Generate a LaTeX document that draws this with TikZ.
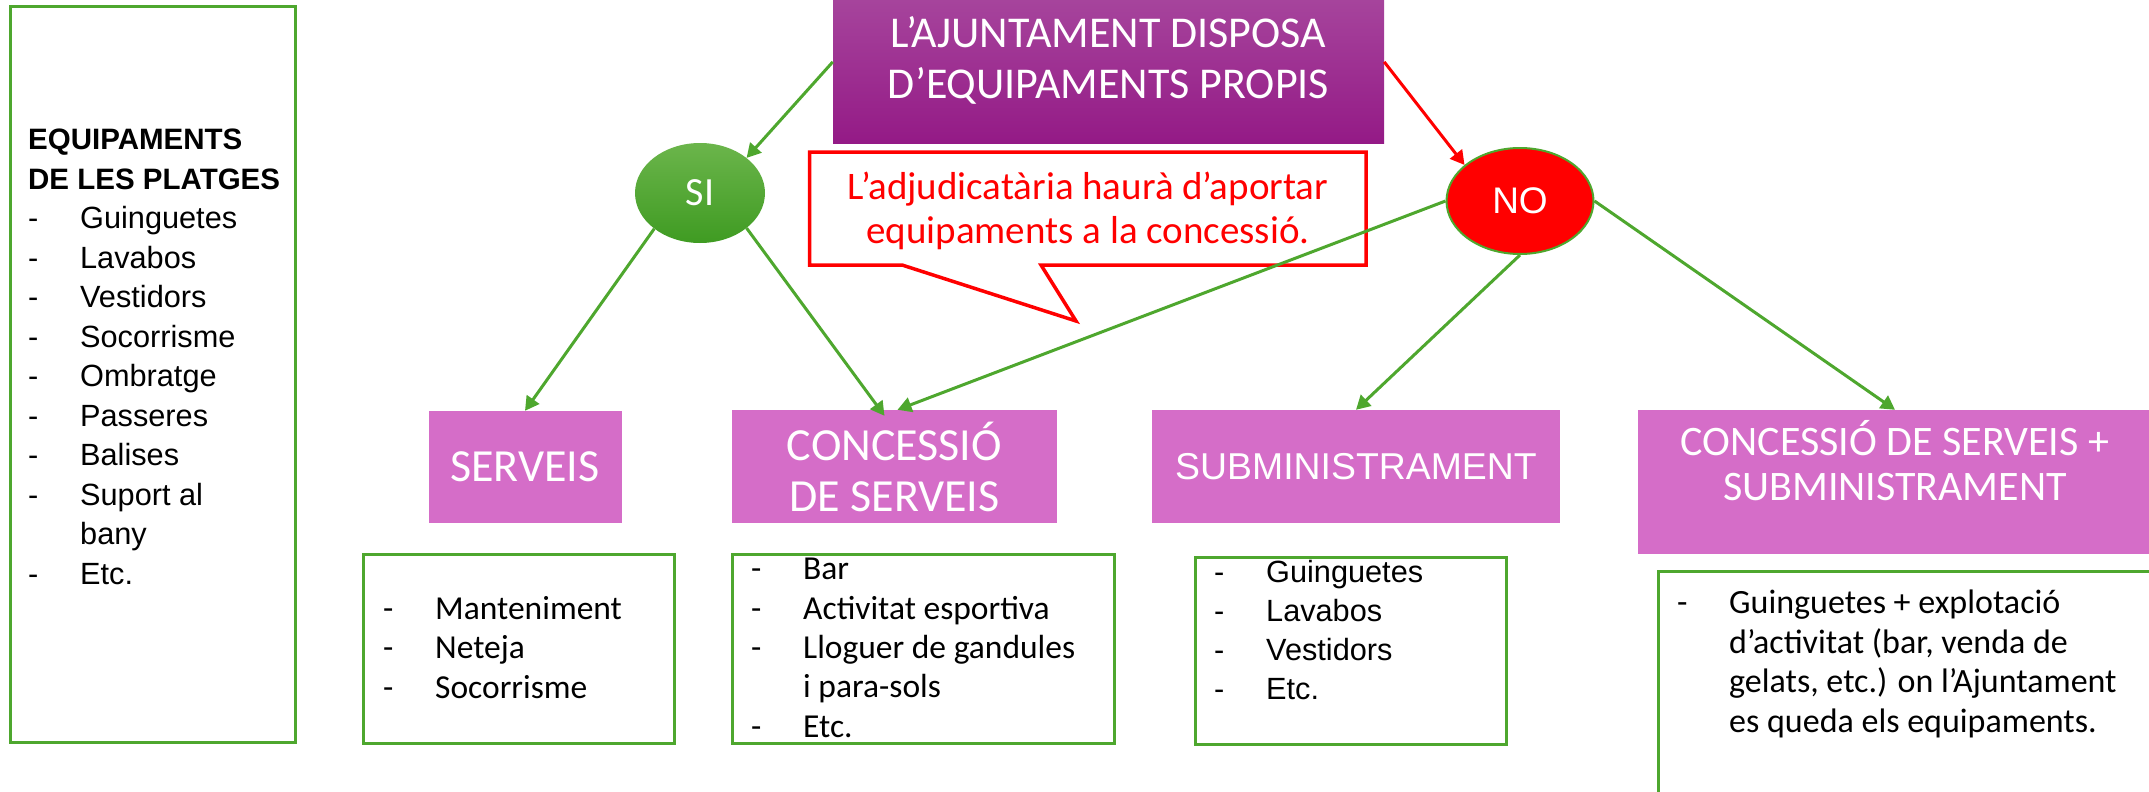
\documentclass[tikz,border=0pt]{standalone}
\usepackage{fontspec}
\setmainfont{Liberation Sans}
\newfontfamily\narrowfont{Carlito}
\usetikzlibrary{arrows.meta,shapes.geometric}

\definecolor{leafgreen}{HTML}{4EA72E}
\definecolor{orchid}{HTML}{D56DC8}
\definecolor{plumtop}{HTML}{A6449C}
\definecolor{plumbot}{HTML}{941A86}
\definecolor{sitop}{HTML}{6BB54B}
\definecolor{sibot}{HTML}{3F9B22}

\newcommand{\itm}[1]{\makebox[52pt][l]{-}#1}
\newcommand{\cont}{\hspace*{52pt}}

\tikzset{
  pinkbox/.style={fill=orchid, text=white, align=center, inner sep=0pt},
  listbox/.style={draw=leafgreen, line width=3pt, inner sep=0pt},
  % anchored on the baseline of the last line
  listtext/.style={align=left, anchor=base west, inner sep=0pt},
  link/.style={->, leafgreen, line width=3pt},
}

\begin{document}
\begin{tikzpicture}[x=1pt, y=-1pt, >={Triangle[length=14pt,width=15pt]}]
    \useasboundingbox (0,0) rectangle (2149,792);

    % left column
    \node[listbox, minimum width=285pt, minimum height=735pt] (platges) at (152.5,374.5) {};
    \node[listtext, font=\fontsize{30.7}{39.5}\selectfont] (platgestext) at (28,584)
        {{\bfseries\fontsize{29.5}{39.5}\selectfont EQUIPAMENTS}\\
         {\bfseries\fontsize{29.5}{39.5}\selectfont DE LES PLATGES}\\
         \itm{Guinguetes}\\ \itm{Lavabos}\\ \itm{Vestidors}\\ \itm{Socorrisme}\\
         \itm{Ombratge}\\ \itm{Passeres}\\ \itm{Balises}\\ \itm{Suport al}\\
         \cont bany\\ \itm{Etc.}};

    % question and answers
    \node[top color=plumtop, bottom color=plumbot, minimum width=551pt, minimum height=143pt]
          (ajuntament) at (1108.5,71.5) {};
    \node[text=white, align=center, inner sep=0pt, font=\narrowfont\fontsize{44}{51}\selectfont]
          (ajuntamenttext) at (1108.5,60) {L’AJUNTAMENT DISPOSA\\D’EQUIPAMENTS PROPIS};
    \node[ellipse, top color=sitop, bottom color=sibot, minimum width=130pt, minimum height=100pt,
          inner sep=0pt, text=white, font=\narrowfont\fontsize{40}{40}\selectfont] (si) at (700,193) {SI};
    \node[ellipse, fill=red, draw=leafgreen, line width=2pt, minimum width=147pt, minimum height=106pt,
          inner sep=0pt, text=white, font=\fontsize{37}{37}\selectfont] (no) at (1520,201) {NO};

    % callout
    \draw[red, line width=3.5pt, fill=white] (809.5,152) -- (1366,152) -- (1366,265) -- (1041,265)
        -- (1076,321) -- (902,265) -- (809.5,265) -- cycle;
    \node[text=red, align=center, font=\narrowfont\fontsize{39}{44}\selectfont] (nota) at (1088,211)
        {L’adjudicatària haurà d’aportar\\equipaments a la concessió.};

    % contract types
    \node[pinkbox, minimum width=193pt, minimum height=112pt, font=\narrowfont\fontsize{46}{51}\selectfont]
        (serveis) at (525,467) {SERVEIS};
    \node[pinkbox, minimum width=325pt, minimum height=113pt, font=\narrowfont\fontsize{46}{51}\selectfont]
        (concessio) at (894.5,466.5) {CONCESSIÓ\\DE SERVEIS};
    \node[pinkbox, minimum width=408pt, minimum height=113pt, font=\fontsize{37.4}{45}\selectfont]
        (subministrament) at (1356,466.5) {SUBMINISTRAMENT};
    \node[pinkbox, minimum width=514pt, minimum height=144pt] (mixt) at (1895,482) {};
    \node[text=white, align=center, inner sep=0pt, font=\narrowfont\fontsize{42}{45}\selectfont]
        (mixttext) at (1895,461) {CONCESSIÓ DE SERVEIS +\\SUBMINISTRAMENT};

    % lists
    \node[listbox, minimum width=311.5pt, minimum height=189pt] (tasques) at (519,648.5) {};
    \node[listtext, font=\narrowfont\fontsize{33.5}{39.5}\selectfont] (tasquestext) at (383,698)
        {\itm{Manteniment}\\ \itm{Neteja}\\ \itm{Socorrisme}};

    \node[listbox, minimum width=382pt, minimum height=189pt] (activitats) at (923,648.5) {};
    \node[listtext, font=\narrowfont\fontsize{33.5}{39.3}\selectfont] (activitatstext) at (751,737)
        {\itm{Bar}\\ \itm{Activitat esportiva}\\ \itm{Lloguer de gandules}\\ \cont i para-sols\\ \itm{Etc.}};

    \node[listbox, minimum width=311pt, minimum height=187pt] (installacions) at (1350.5,650.5) {};
    \node[listtext, font=\fontsize{30.7}{39}\selectfont] (installacionstext) at (1214,699)
        {\itm{Guinguetes}\\ \itm{Lavabos}\\ \itm{Vestidors}\\ \itm{Etc.}};

    \node[listbox, minimum width=502pt, minimum height=240pt] (explotacio) at (1909,691) {};
    \node[listtext, font=\narrowfont\fontsize{34}{39.5}\selectfont] (explotaciotext) at (1677,732)
        {\itm{Guinguetes + explotació}\\ \cont d’activitat (bar, venda de\\
         \cont gelats, etc.) on l’Ajuntament\\ \cont es queda els equipaments.};

    % arrows
    \draw[link] (ajuntament.178) -- (si.37);
    \draw[->, red, line width=3pt] (ajuntament.2) -- (no.147);
    \draw[link] (si.-142) -- (serveis.north);
    \draw[link] (si.-37) -- ([xshift=-10pt, yshift=-6pt]concessio.north);
    \draw[link] (no.180) -- ([xshift=3pt]concessio.north);
    \draw[link] (no.-90) -- (subministrament.north);
    \draw[link] (no.0) -- (mixt.north);
\end{tikzpicture}
\end{document}
